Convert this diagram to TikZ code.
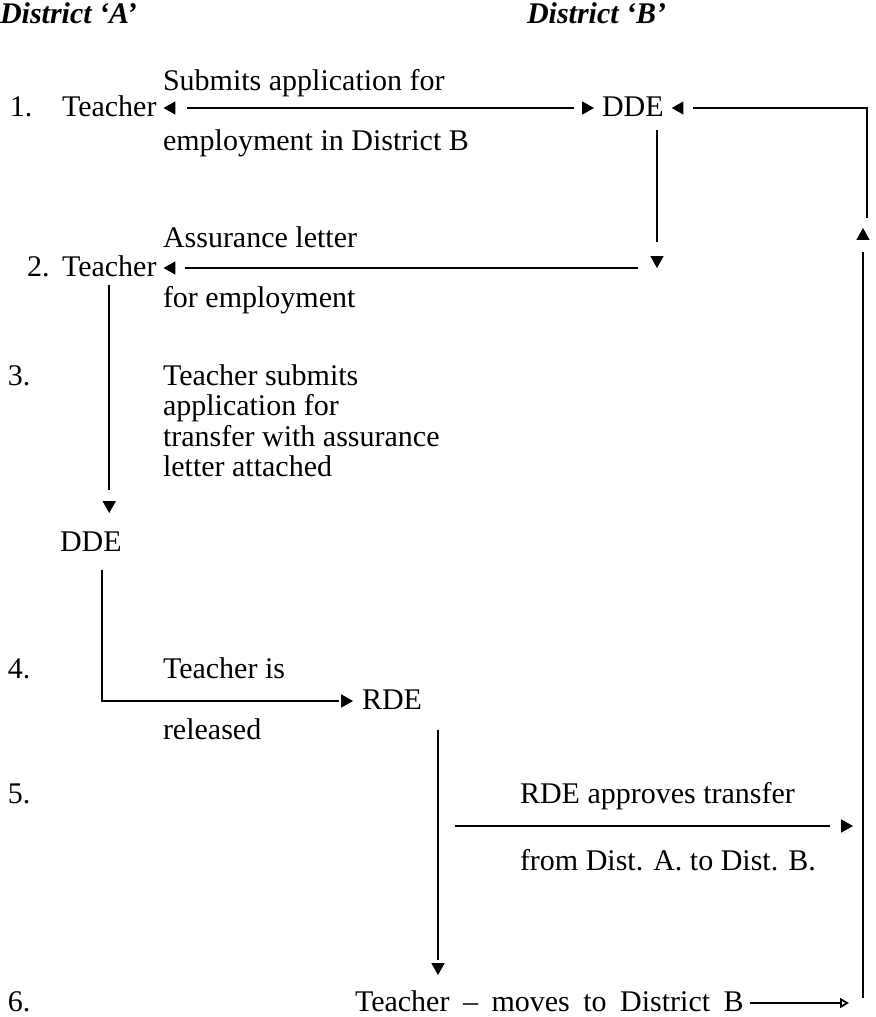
\documentclass[tikz,border=0pt]{standalone}
\usepackage{fontspec}
\setmainfont{Liberation Serif}
\usetikzlibrary{arrows.meta,decorations.markings}
\begin{document}
\begin{tikzpicture}[x=0.5pt,y=-0.5pt]
\tikzset{
  every node/.style={inner sep=0pt, outer sep=0pt, text height=11pt, text depth=3pt,
    font=\fontsize{15}{18}\selectfont},
  lbl/.style={anchor=base west},
  head/.style={anchor=base west, font=\fontsize{15}{18}\selectfont\bfseries\itshape},
  link/.style={line width=0.9pt},
  % small solid head at the end of a connector, the line stopping short of it
  headend/.style={shorten >=#1,
    postaction={decorate, decoration={markings,
      mark=at position 1 with {\arrow[line width=0.6pt]{Triangle[length=5.9pt,width=6.5pt]}}}}},
  headstart/.style={shorten <=#1,
    postaction={decorate, decoration={markings,
      mark=at position 0 with {\arrowreversed[line width=0.6pt]{Triangle[length=5.9pt,width=6.5pt]}}}}},
  otip/.tip={Triangle[open,length=4.5pt,width=5pt,line width=0.9pt]}
}
\useasboundingbox (0,0) rectangle (875,1017);

% column headings
\node[head] (ha) at (0,24) {District ‘A’};
\node[head] (hb) at (527,24) {District ‘B’};

% step 1
\node[lbl] (n1) at (10,116) {1.};
\node[lbl] (t1) at (62,116) {Teacher};
\node[lbl] (d1) at (602,116) {DDE};
\node[lbl] (s1a) at (163,90) {Submits application for};
\node[lbl] (s1b) at (163,150) {employment in District B};
\draw[link,headstart=12pt,headend=10pt] ([xshift=3.5pt]t1.east) -- ([xshift=-4pt]d1.west);

% step 2
\node[lbl] (n2) at (27,276) {2.};
\node[lbl] (t2) at (62,276) {Teacher};
\node[lbl] (s2a) at (163,247) {Assurance letter};
\node[lbl] (s2b) at (163,307) {for employment};
\coordinate (c2) at (657,268);
\coordinate (c2l) at (638,268);
\draw[link,shorten <=4pt,headend=13pt] (c2 |- d1.south) -- (c2);
\draw[link,headend=11pt] (c2l) -- ([xshift=3.5pt]t2.east);

% step 3
\node[lbl] (n3) at (8,385) {3.};
\node[lbl] (s3a) at (163,385) {Teacher submits};
\node[lbl] (s3b) at (163,415.5) {application for};
\node[lbl] (s3c) at (163,446) {transfer with assurance};
\node[lbl] (s3d) at (163,476) {letter attached};
\node[lbl] (d2) at (60,551) {DDE};
\draw[link,shorten <=1.5pt,headend=11.5pt] (t2.south) -- ([yshift=8pt]t2.south |- d2.north);

% step 4
\node[lbl] (n4) at (8,678) {4.};
\node[lbl] (s4a) at (163,678) {Teacher is};
\node[lbl] (s4b) at (163,739) {released};
\node[lbl] (r) at (362,709) {RDE};
\draw[link,shorten <=6.5pt,headend=7pt] ([xshift=5.5pt]d2.south) |- ([xshift=-4.5pt]r.west);

% step 5
\node[lbl] (n5) at (8,803) {5.};
\node[lbl] (s5a) at (520,803) {RDE approves transfer};
\node[lbl] (s5b) at (520,870) {from Dist. A. to Dist. B.};
\coordinate (f5a) at (455,826);
\coordinate (f5b) at (853,826);
\draw[link,headend=11.5pt] (f5a) -- (f5b);

% step 6
\node[lbl] (n6) at (8,1011) {6.};
\node[lbl] (t6) at (355,1011) {\spaceskip=0.45em\relax Teacher – moves to District B};
\draw[link,shorten <=7.5pt,headend=7.5pt] ([xshift=8pt]r.south east) -- ([xshift=8pt,yshift=7pt]r.south east |- t6.north);
\coordinate (f6) at (849,1003);
\draw[link,-otip,shorten <=3pt] (t6.east) -- (f6);

% return path on the right up to the DDE of District B
\coordinate (rb) at (863,998);
\coordinate (rm) at (863,228);
\coordinate (rt) at (867,218);
\draw[link,headend=12pt] (rb) -- (rm);
\draw[link,headend=10.5pt] (rt) |- ([xshift=4pt]d1.east);
\end{tikzpicture}
\end{document}
